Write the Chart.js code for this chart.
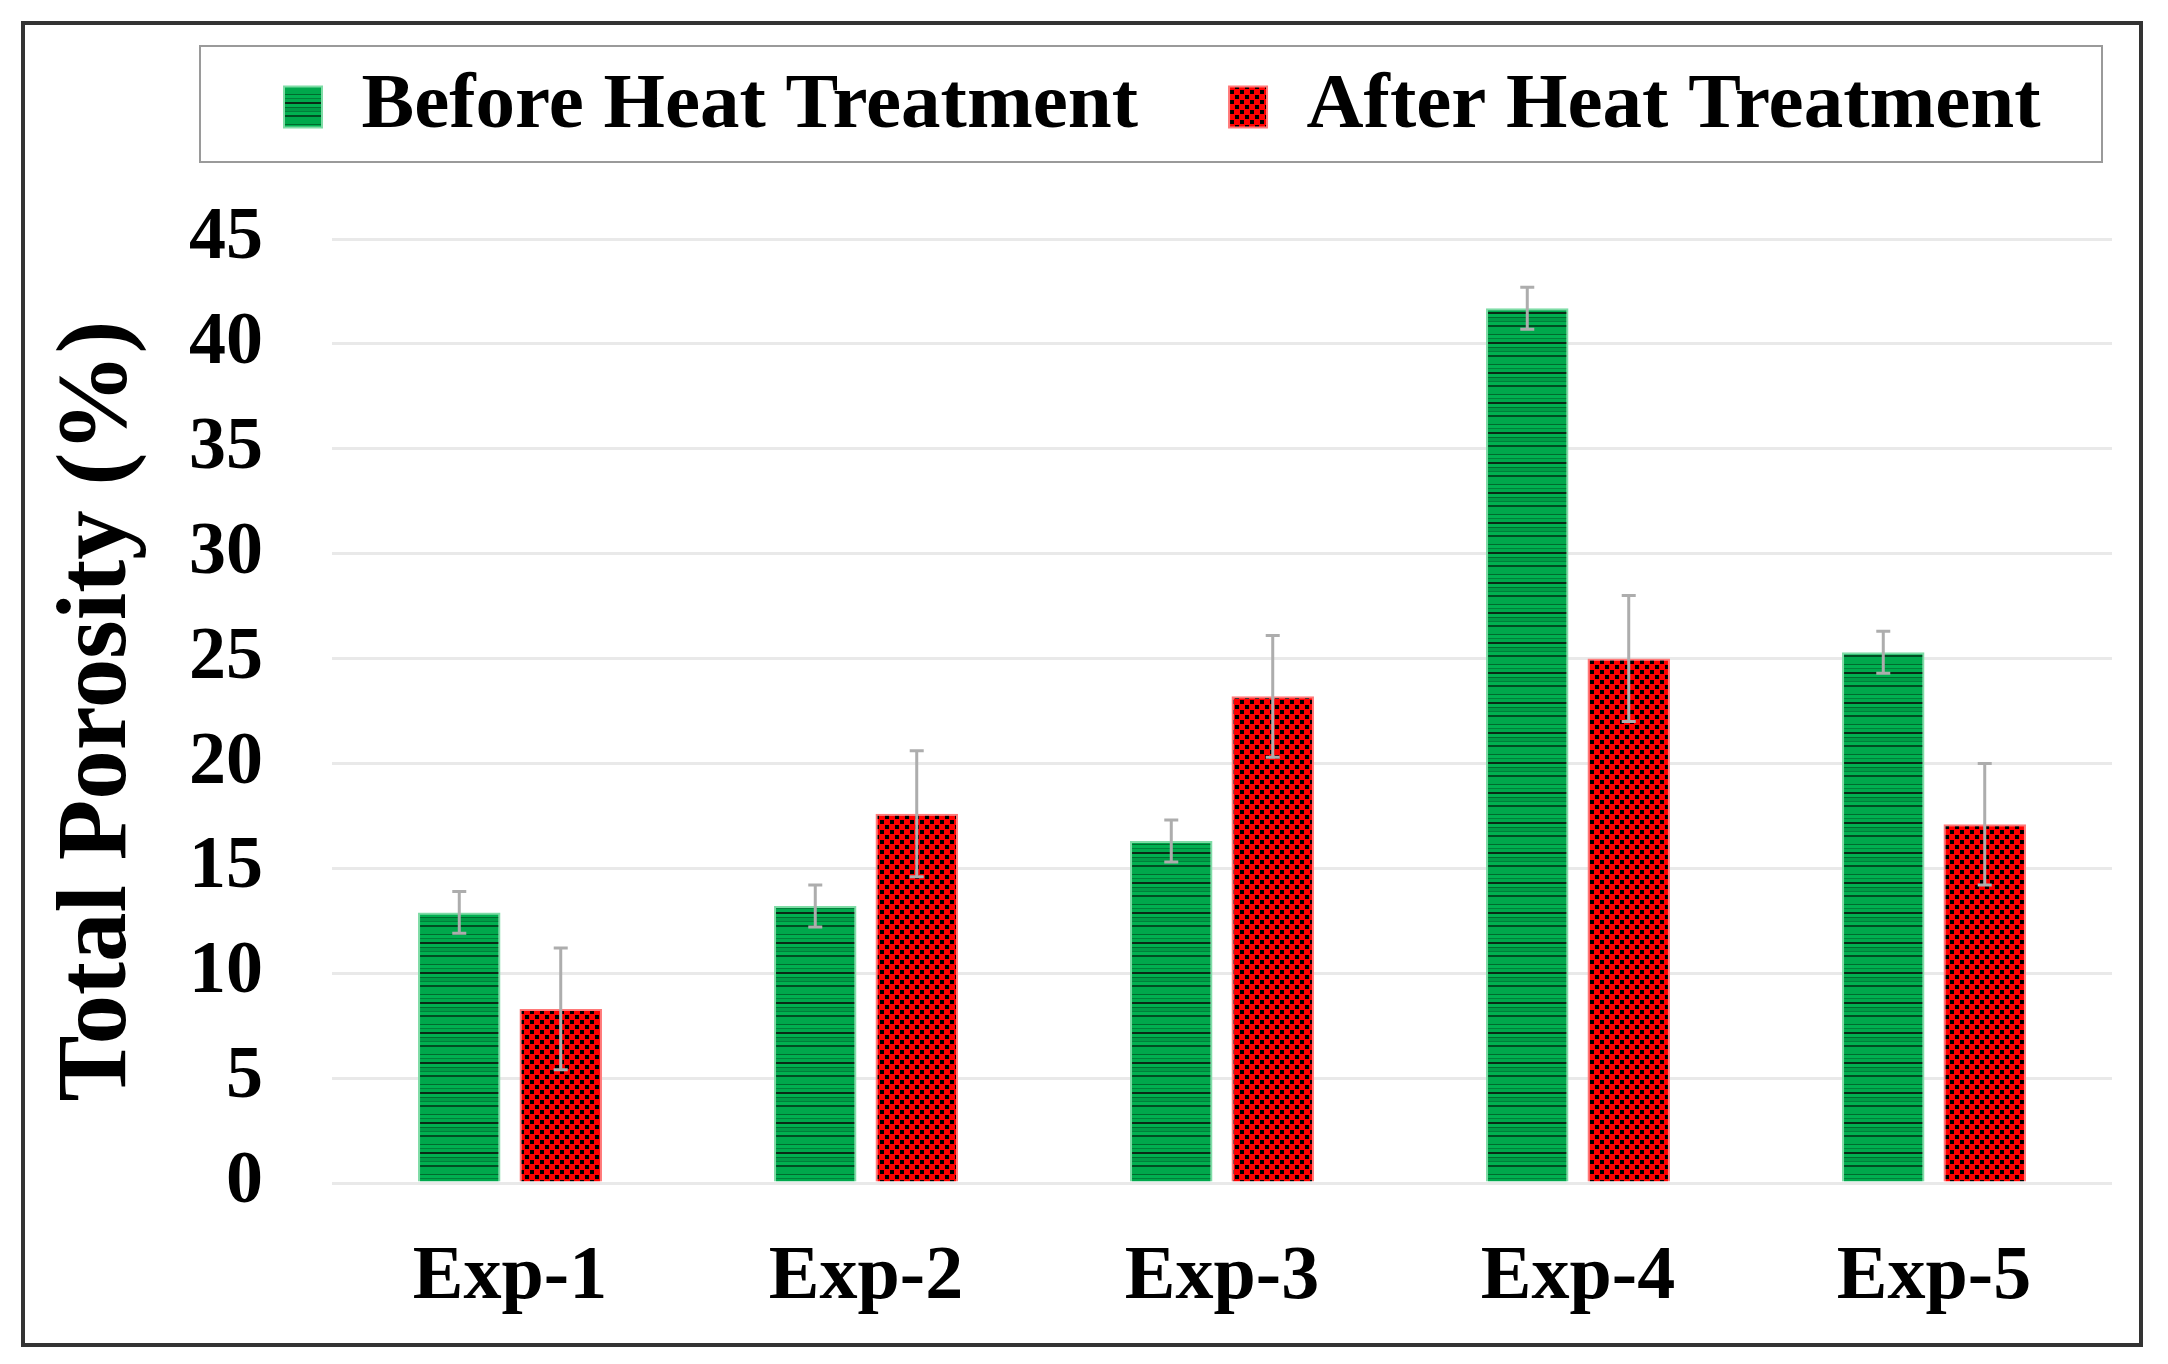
<!DOCTYPE html>
<html lang="en">
<head>
<meta charset="utf-8">
<title>Total Porosity</title>
<script src="https://cdn.jsdelivr.net/npm/chart.js@4.4.1/dist/chart.umd.min.js"></script>
<style>
  html, body { margin: 0; padding: 0; background: #ffffff; }
  canvas { display: block; }
</style>
</head>
<body>
<canvas id="chartPorosity" width="2168" height="1364"></canvas>
<script>
// Data
const experiments = ['Exp-1', 'Exp-2', 'Exp-3', 'Exp-4', 'Exp-5'];
const seriesLabels = ['Before Heat Treatment', 'After Heat Treatment'];
const porosityBefore = [12.9, 13.2, 16.3, 41.7, 25.3];
const errorBefore = [1.0, 1.0, 1.0, 1.0, 1.0];
const porosityAfter = [8.3, 17.6, 23.2, 25.0, 17.1];
const errorAfter = [2.9, 3.0, 2.9, 3.0, 2.9];
const yTicks = [0, 5, 10, 15, 20, 25, 30, 35, 40, 45];

const SERIF = '"Liberation Serif", "Times New Roman", serif';

// Horizontal stripe pattern (green bars)
function makeStripePattern(ctx) {
    const tile = document.createElement('canvas');
    tile.width = 8;
    tile.height = 30;
    const t = tile.getContext('2d');
    const rows = [
        [0, 4, '#00a84c'], [4, 1, '#006b2e'], [5, 3, '#00b050'], [8, 1, '#00803a'],
        [9, 3, '#00a84c'], [12, 2, '#0b2a16'], [14, 3, '#00b050'], [17, 1, '#006b2e'],
        [18, 3, '#009a45'], [21, 1, '#00803a'], [22, 3, '#00b050'], [25, 2, '#004d22'],
        [27, 3, '#00a84c']
    ];
    rows.forEach(([y, h, c]) => {
        t.fillStyle = c;
        t.fillRect(0, y, 8, h);
    });
    return ctx.createPattern(tile, 'repeat');
}

// Checkerboard pattern (red bars)
function makeCheckerPattern(ctx) {
    const tile = document.createElement('canvas');
    tile.width = 10;
    tile.height = 10;
    const t = tile.getContext('2d');
    t.fillStyle = '#ff0000';
    t.fillRect(0, 0, 10, 10);
    t.fillStyle = '#000000';
    t.fillRect(0, 0, 4, 4);
    t.fillRect(5, 5, 4, 4);
    return ctx.createPattern(tile, 'repeat');
}

// Error bars drawn from the y scale
const errorBarsPlugin = {
    id: 'errorBars',
    afterDatasetsDraw(chart) {
        const ctx = chart.ctx;
        const yScale = chart.scales.y;
        const errors = [errorBefore, errorAfter];
        ctx.save();
        ctx.strokeStyle = '#adadad';
        ctx.lineWidth = 3;
        chart.data.datasets.forEach((ds, i) => {
            const meta = chart.getDatasetMeta(i);
            meta.data.forEach((bar, j) => {
                const v = ds.data[j];
                const e = errors[i][j];
                const yTop = yScale.getPixelForValue(v + e);
                const yBot = yScale.getPixelForValue(v - e);
                ctx.beginPath();
                ctx.moveTo(bar.x, yTop);
                ctx.lineTo(bar.x, yBot);
                ctx.moveTo(bar.x - 7, yTop);
                ctx.lineTo(bar.x + 7, yTop);
                ctx.moveTo(bar.x - 7, yBot);
                ctx.lineTo(bar.x + 7, yBot);
                ctx.stroke();
            });
        });
        ctx.restore();
    }
};

// Legend placement + frames
const framePlugin = {
    id: 'frames',
    afterLayout(chart) {
        const legend = chart.legend;
        const pad = chart.options.plugins.legend.labels.padding;
        const size = chart.options.plugins.legend.labels.font.size;
        const dy = 107 - (legend.top + pad + size / 2);
        legend.top += dy;
        legend.bottom += dy;
        // first swatch starts near x = 284 (align 'start' adds the padding)
        legend.left = 284 - pad;
        legend.right = chart.width;
    },
    beforeDraw(chart) {
        const ctx = chart.ctx;
        ctx.save();
        ctx.fillStyle = '#ffffff';
        ctx.fillRect(0, 0, chart.width, chart.height);
        ctx.restore();
    },
    afterDraw(chart) {
        const ctx = chart.ctx;
        ctx.save();
        // legend box
        ctx.strokeStyle = '#9a9a9a';
        ctx.lineWidth = 2;
        ctx.strokeRect(200, 46, 1902, 116);
        // outer frame
        ctx.strokeStyle = '#333333';
        ctx.lineWidth = 4;
        ctx.strokeRect(23, 23, 2118, 1322);
        ctx.restore();
    }
};

function loadChartPorosity() {
    const canvas = document.getElementById('chartPorosity');
    if (!canvas) {
        console.error("Canvas not found.");
        return;
    }
    const ctx = canvas.getContext('2d');

    const chart = new Chart(canvas, {
        type: 'bar',
        data: {
            labels: experiments,
            datasets: [{
                label: seriesLabels[0],
                data: porosityBefore,
                backgroundColor: makeStripePattern(ctx),
                borderColor: '#7fdca6',
                borderWidth: 2,
                borderSkipped: 'bottom'
            }, {
                label: seriesLabels[1],
                data: porosityAfter,
                backgroundColor: makeCheckerPattern(ctx),
                borderColor: '#ff7a7a',
                borderWidth: 2,
                borderSkipped: 'bottom'
            }]
        },
        options: {
            responsive: false,
            animation: false,
            devicePixelRatio: 1,
            categoryPercentage: 0.570,
            barPercentage: 0.813,
            layout: {
                padding: { top: 59, left: 30, right: 56, bottom: 41 }
            },
            plugins: {
                legend: {
                    display: true,
                    position: 'top',
                    align: 'start',
                    labels: {
                        color: '#000000',
                        font: { family: SERIF, size: 79, weight: 'bold' },
                        boxWidth: 38,
                        boxHeight: 41,
                        padding: 91
                    }
                },
                tooltip: { enabled: false }
            },
            scales: {
                x: {
                    grid: { display: false, drawTicks: false },
                    border: { display: false },
                    ticks: {
                        color: '#000000',
                        font: { family: SERIF, size: 76, weight: 'bold' },
                        padding: 50
                    },
                    afterFit(scale) { scale.height = 140; }
                },
                y: {
                    min: 0,
                    max: 45,
                    afterBuildTicks(scale) {
                        scale.ticks = yTicks.map(v => ({ value: v }));
                    },
                    grid: { color: '#e9e9e9', lineWidth: 3, drawTicks: false },
                    border: { display: false },
                    ticks: {
                        color: '#000000',
                        font: { family: SERIF, size: 74, weight: 'bold' },
                        padding: 69
                    },
                    title: {
                        display: true,
                        text: 'Total Porosity (%)',
                        color: '#000000',
                        font: { family: SERIF, size: 99, weight: 'bold' },
                        padding: { top: 10, bottom: 0 }
                    },
                    afterFit(scale) { scale.width = 302; }
                }
            }
        },
        plugins: [framePlugin, errorBarsPlugin]
    });

    return chart;
}

loadChartPorosity();
</script>
</body>
</html>
